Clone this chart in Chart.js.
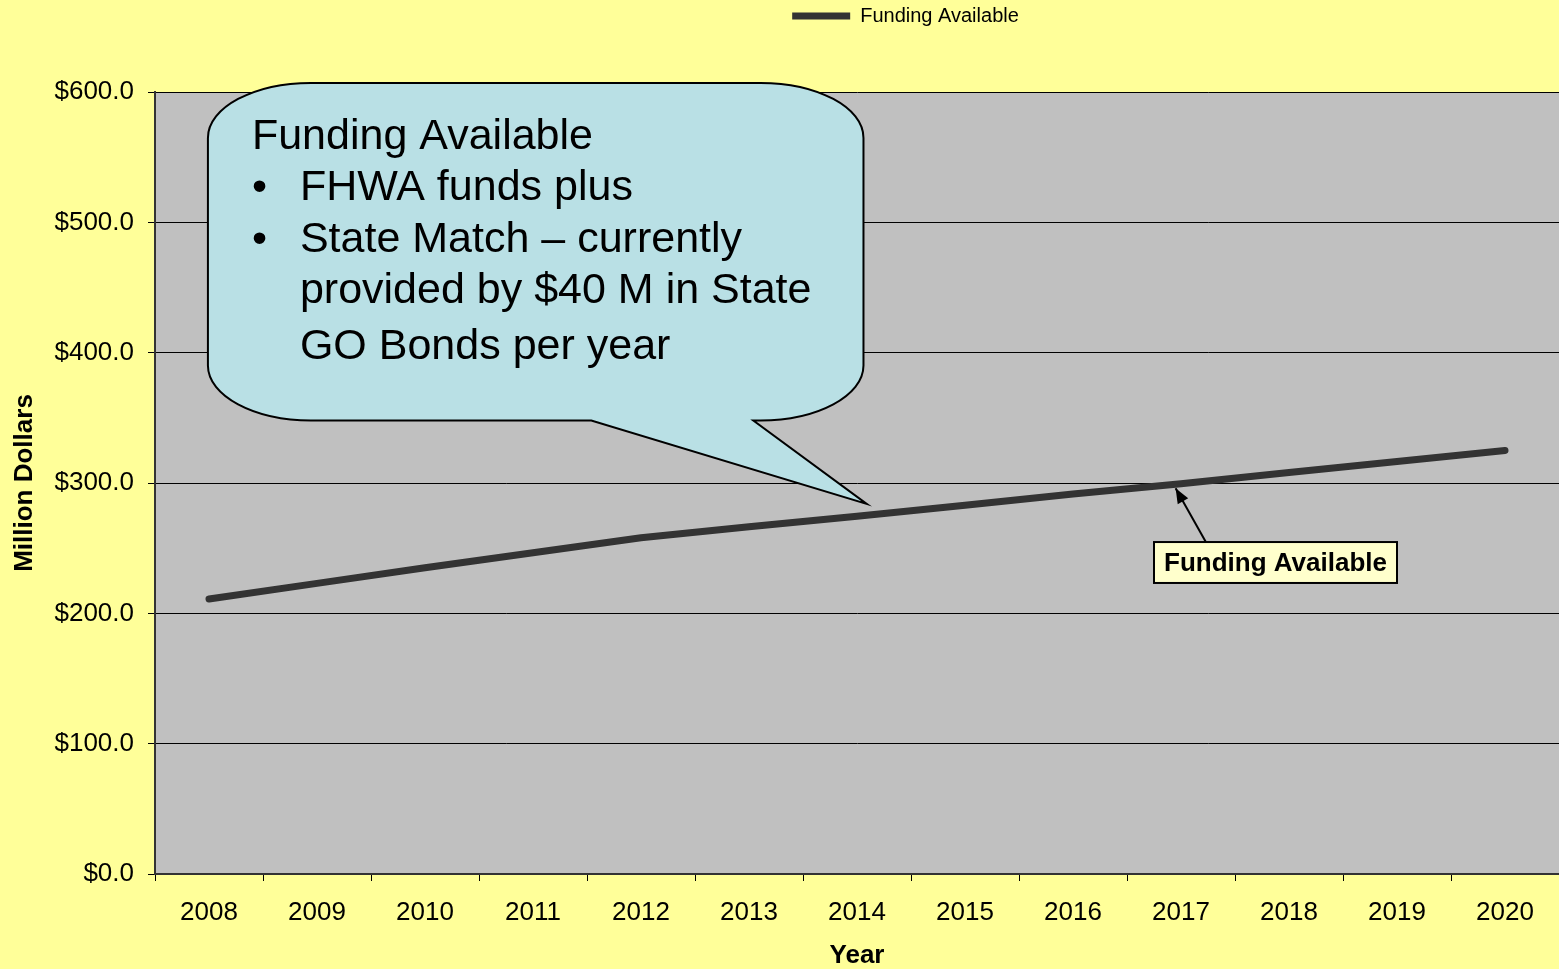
<!DOCTYPE html>
<html>
<head>
<meta charset="utf-8">
<script src="https://cdn.jsdelivr.net/npm/chart.js@4.4.1/dist/chart.umd.min.js"></script>
<style>
  html,body{margin:0;padding:0;background:#FFFF99;}
  #wrap{width:1559px;height:969px;}
</style>
</head>
<body>
<div id="wrap"><canvas id="funding-chart" width="1559" height="969"></canvas></div>
<script>
const years=['2008','2009','2010','2011','2012','2013','2014','2015','2016','2017','2018','2019','2020'];
const fundingAvailable=[211,223,235,246.5,258,266.5,274.5,283,291.5,299.5,308,316.5,325];
const yMin=0, yMax=600, yStep=100;

const seriesName='Funding Available';
const calloutTitle='Funding Available';
const calloutBullets=[
  {bullet:true, text:'FHWA funds plus'},
  {bullet:true, text:'State Match \u2013 currently'},
  {bullet:false,text:'provided by $40 M in State'},
  {bullet:false,text:'GO Bonds per year'}
];
const labelText='Funding Available';

const FONT='"Liberation Sans", Arial, Helvetica, sans-serif';
Chart.defaults.font.family=FONT;
Chart.defaults.color='#000';

// callout anchors in data units (category index, value)
const callout={x0:-0.01,x1:6.06,top:607,bottom:348,baseL:3.54,baseR:5.04,tipX:6.09,tipY:284};
const note={x0:8.75,x1:11.0,top:254.7,bottom:223.3,fromX:9.23,tipX:8.95,tipY:296};

const background={
  id:'background',
  beforeDraw(chart){
    const {ctx,chartArea:a}=chart;
    ctx.save();
    ctx.fillStyle='#FFFF99';
    ctx.fillRect(0,0,chart.width,chart.height);
    ctx.fillStyle='#C0C0C0';
    ctx.fillRect(a.left,a.top,a.right-a.left,a.bottom-a.top);
    ctx.restore();
  }
};

const legendTweak={
  id:'legendTweak',
  beforeInit(chart){
    const fit=chart.legend.fit;
    chart.legend.fit=function(){fit.bind(chart.legend)();this.height=92;};
  },
  afterLayout(chart){
    chart.legend.left+=126;
    chart.legend.right+=126;
  }
};

function calloutPath(ctx,l,t,r,b,rx,ry,bl,br,tx,ty){
  const k=0.5523;
  ctx.beginPath();
  ctx.moveTo(l+rx,t);
  ctx.lineTo(r-rx,t);
  ctx.bezierCurveTo(r-rx+rx*k,t,r,t+ry-ry*k,r,t+ry);
  ctx.lineTo(r,b-ry);
  ctx.bezierCurveTo(r,b-ry+ry*k,r-rx+rx*k,b,r-rx,b);
  ctx.lineTo(br,b);
  ctx.lineTo(tx,ty);
  ctx.lineTo(bl,b);
  ctx.lineTo(l+rx,b);
  ctx.bezierCurveTo(l+rx-rx*k,b,l,b-ry+ry*k,l,b-ry);
  ctx.lineTo(l,t+ry);
  ctx.bezierCurveTo(l,t+ry-ry*k,l+rx-rx*k,t,l+rx,t);
  ctx.closePath();
}

const annotations={
  id:'annotations',
  afterDraw(chart){
    const {ctx}=chart;
    const xs=chart.scales.x, ys=chart.scales.y;
    const px=v=>xs.getPixelForValue(v), py=v=>ys.getPixelForValue(v);
    ctx.save();

    // speech bubble
    const l=px(callout.x0), r=px(callout.x1), t=py(callout.top), b=py(callout.bottom);
    calloutPath(ctx,l,t,r,b,103,55,px(callout.baseL),px(callout.baseR),px(callout.tipX),py(callout.tipY));
    ctx.fillStyle='#B9E0E5';
    ctx.fill();
    ctx.lineWidth=2;
    ctx.strokeStyle='#000';
    ctx.lineJoin='miter';
    ctx.stroke();

    ctx.fillStyle='#000';
    ctx.textBaseline='middle';
    ctx.textAlign='left';
    ctx.font='43px '+FONT;
    ctx.fillText(calloutTitle,l+44,t+54);
    const rows=[105,157,208,264];
    calloutBullets.forEach((row,i)=>{
      if(row.bullet) ctx.fillText('\u2022',l+44,t+rows[i]);
      ctx.fillText(row.text,l+92,t+rows[i]);
    });

    // label with arrow
    const nl=px(note.x0), nr=px(note.x1), nt=py(note.top), nb=py(note.bottom);
    const ax0=px(note.fromX), ax1=px(note.tipX), ay1=py(note.tipY);
    ctx.beginPath();
    ctx.moveTo(ax0,nt);
    ctx.lineTo(ax1,ay1);
    ctx.lineWidth=2;
    ctx.stroke();
    const ang=Math.atan2(ay1-nt,ax1-ax0);
    ctx.beginPath();
    ctx.moveTo(ax1,ay1);
    ctx.lineTo(ax1-15*Math.cos(ang)+6*Math.sin(ang),ay1-15*Math.sin(ang)-6*Math.cos(ang));
    ctx.lineTo(ax1-15*Math.cos(ang)-6*Math.sin(ang),ay1-15*Math.sin(ang)+6*Math.cos(ang));
    ctx.closePath();
    ctx.fill();

    ctx.fillStyle='#FFFFCC';
    ctx.fillRect(nl,nt,nr-nl,nb-nt);
    ctx.strokeRect(nl,nt,nr-nl,nb-nt);
    ctx.fillStyle='#000';
    ctx.textAlign='center';
    ctx.font='bold 26px '+FONT;
    ctx.fillText(labelText,(nl+nr)/2,(nt+nb)/2+1);
    ctx.restore();
  }
};

new Chart(document.getElementById('funding-chart'),{
  type:'line',
  data:{
    labels:years,
    datasets:[{
      label:seriesName,
      data:fundingAvailable,
      borderColor:'#333333',
      backgroundColor:'#333333',
      borderWidth:7,
      borderCapStyle:'round',
      borderJoinStyle:'round',
      pointRadius:0,
      pointHoverRadius:0,
      tension:0,
      fill:false
    }]
  },
  options:{
    responsive:false,
    animation:false,
    layout:{padding:0},
    plugins:{
      tooltip:{enabled:false},
      legend:{
        position:'top',
        labels:{
          usePointStyle:true,
          pointStyleWidth:58,
          pointStyle:'line',
          padding:6,
          color:'#000',
          font:{size:20}
        }
      }
    },
    scales:{
      x:{
        offset:true,
        grid:{offset:true,drawOnChartArea:false,drawTicks:true,tickLength:7,color:'#000'},
        border:{color:'#333',width:2},
        ticks:{font:{size:26},color:'#000',padding:16,maxRotation:0,autoSkip:false},
        title:{display:true,text:'Year',color:'#000',font:{size:26,weight:'bold',lineHeight:1},padding:{top:0,bottom:0}},
        afterFit(s){s.height=95;}
      },
      y:{
        min:yMin,max:yMax,
        ticks:{stepSize:yStep,font:{size:26},color:'#000',padding:14,callback:v=>'$'+Number(v).toFixed(1)},
        grid:{color:'#000',lineWidth:1,tickLength:7},
        border:{color:'#333',width:2},
        title:{display:true,text:'Million Dollars',color:'#000',font:{size:26,weight:'bold',lineHeight:1.2},padding:{top:9,bottom:0}},
        afterFit(s){s.width=155;}
      }
    }
  },
  plugins:[background,legendTweak,annotations]
});
</script>
</body>
</html>
